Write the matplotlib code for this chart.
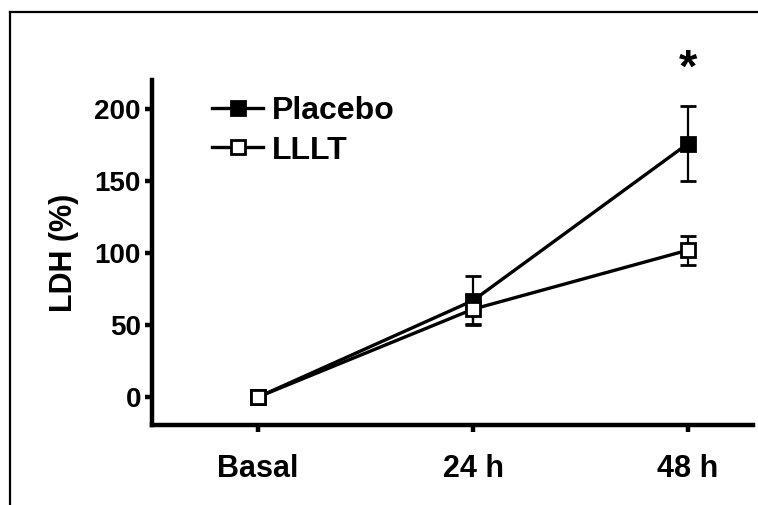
# LDH release over time, placebo vs LLLT, Prism-style line plot with SEM bars

import numpy as np
import matplotlib
matplotlib.use("Agg")
import matplotlib.pyplot as plt
from matplotlib.lines import Line2D

plt.rcParams["font.family"] = ["Liberation Sans", "DejaVu Sans"]
plt.rcParams["font.weight"] = "bold"

# data
timepoints = ["Basal", "24 h", "48 h"]
placebo_mean = [0, 67, 176]
placebo_sem = [0, 17, 26]
lllt_mean = [0, 61, 102]
lllt_sem = [0, 10, 10]
yticks = [0, 50, 100, 150, 200]

# figure appearance
W, H, DPI = 758, 505, 100
AX_LEFT, AX_RIGHT, AX_BOTTOM, AX_TOP = 152, 753, 425, 80  # pixels
SPINE_W = 3.2

fig = plt.figure(figsize=(W / DPI, H / DPI), dpi=DPI)
ax = fig.add_axes([AX_LEFT / W, 1 - AX_BOTTOM / H,
                   (AX_RIGHT - AX_LEFT) / W, (AX_BOTTOM - AX_TOP) / H])

x = np.arange(len(timepoints))

style = dict(color="black", lw=2.4, marker="s", ms=9.5, mec="black", mew=2,
             ecolor="black", elinewidth=1.6, capsize=5.5, capthick=1.6)
ax.errorbar(x, placebo_mean, yerr=placebo_sem, mfc="black",
            label="Placebo", zorder=3, **style)
ax.errorbar(x, lllt_mean, yerr=lllt_sem, mfc="white",
            label="LLLT", zorder=4, **style)

# significance mark above 48 h
ax.text(x[2], 227, "*", ha="center", va="center", fontsize=34,
        fontweight="bold", clip_on=False)

ax.set_xlim(-0.493, 2.302)
ax.set_ylim(-19.4, 220.1)
ax.set_xticks(x)
ax.set_xticklabels(timepoints)
ax.set_yticks(yticks)
ax.set_ylabel("LDH (%)", fontsize=22, fontweight="bold", labelpad=11)

for side in ["top", "right"]:
    ax.spines[side].set_visible(False)
for side in ["left", "bottom"]:
    ax.spines[side].set_linewidth(SPINE_W)
    ax.spines[side].set_capstyle("projecting")
ax.tick_params(axis="both", direction="out", length=5, width=SPINE_W)
ax.tick_params(axis="x", pad=16, labelsize=22)
ax.tick_params(axis="y", pad=3, labelsize=20)
for lbl in ax.get_xticklabels() + ax.get_yticklabels():
    lbl.set_fontweight("bold")

labels = ["Placebo", "LLLT"]
handles = [Line2D([], [], color="black", lw=2.4, marker="s", ms=9.5,
                  mfc=fc, mec="black", mew=2) for fc in ("black", "white")]
ax.legend(handles, labels, loc="upper left",
          bbox_to_anchor=(212 / W, 1 - 96 / H), bbox_transform=fig.transFigure,
          frameon=False, handlelength=1.6, handletextpad=0.28,
          labelspacing=0.3, borderpad=0, borderaxespad=0,
          prop={"weight": "bold", "size": 23})

# outer frame running off the right and bottom edges
fig.add_artist(Line2D([10 / W, 1.01], [1 - 12 / H, 1 - 12 / H],
                      transform=fig.transFigure, color="black", lw=1.6))
fig.add_artist(Line2D([10 / W, 10 / W], [1 - 12 / H, -0.01],
                      transform=fig.transFigure, color="black", lw=1.6))

fig.savefig("out.png", dpi=DPI)
